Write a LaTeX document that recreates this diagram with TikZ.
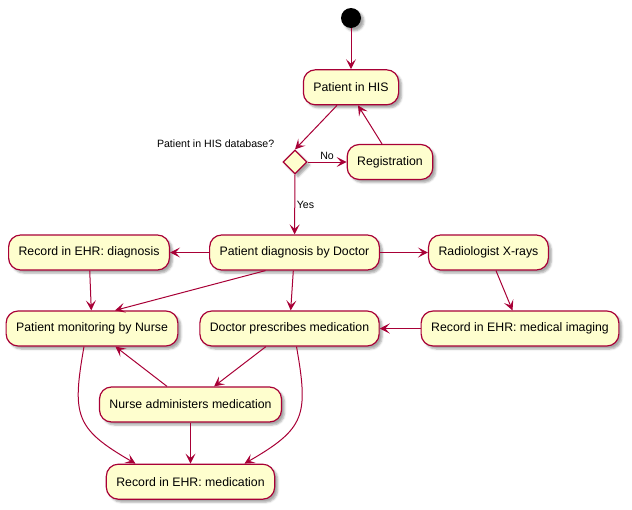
\documentclass[tikz,border=0pt]{standalone}
\usepackage{fontspec}
\setmainfont{Liberation Sans}
\usetikzlibrary{arrows.meta,positioning,shapes.geometric,shadows.blur}
\definecolor{umlRed}{HTML}{A80036}
\definecolor{umlCream}{HTML}{FEFECE}
\tikzset{
  >={Stealth[length=10pt,width=10pt,inset=4.5pt]},
  act/.style={rounded corners=12pt, draw=umlRed, fill=umlCream, line width=1.2pt,
              minimum height=35pt, inner xsep=10pt, font=\fontsize{12.3}{14}\selectfont,
              blur shadow={shadow xshift=3pt,shadow yshift=-3pt,shadow blur radius=2pt,shadow opacity=35}},
  dec/.style={diamond, draw=umlRed, fill=umlCream, line width=1.2pt, minimum size=24pt,
              inner sep=0pt, blur shadow={shadow xshift=3pt,shadow yshift=-3pt,shadow blur radius=2pt,shadow opacity=35}},
  init/.style={circle, fill=black, minimum size=20pt, inner sep=0pt,
              blur shadow={shadow xshift=3pt,shadow yshift=-3pt,shadow blur radius=2pt,shadow opacity=35}},
  lbl/.style={font=\fontsize{10.6}{13}\selectfont, inner sep=1.5pt},
  flow/.style={->, draw=umlRed, line width=1pt},
}

\begin{document}
\begin{tikzpicture}[x=1pt,y=1pt]
        \useasboundingbox (0,0) rectangle (632,-509);
        \node[init] (start) at (351,-18) {};
        \node[act,below=41pt of start] (his) {Patient in HIS};
        \node[dec] (dec) at (295,-162) {};
        \node[act,right=39pt of dec] (reg) {Registration};
        \node[lbl,anchor=east] (qlbl) at ([xshift=-19pt,yshift=18pt]dec) {Patient in HIS database?};
        \node[act] (diag) at (294.5,-252.5) {Patient diagnosis by Doctor};
        \node[act,left=39pt of diag] (recdiag) {Record in EHR: diagnosis};
        \node[act,right=48pt of diag] (xray) {Radiologist X-rays};
        \node[act] (monitor) at (92,-328.5) {Patient monitoring by Nurse};
        \node[act] (prescribe) at (289.5,-328.5) {Doctor prescribes medication};
        \node[act] (imaging) at (520,-328.5) {Record in EHR: medical imaging};
        \node[act] (nurse) at (190.5,-404.5) {Nurse administers medication};
        \node[act,below=41pt of nurse] (recmed) {Record in EHR: medication};
        \draw[flow] (start) -- (his);
        \draw[flow] ([xshift=-14pt]his.south) -- (dec.north);
        \draw[flow] (dec) -- node[lbl,above] {No} (reg);
        \draw[flow] ([xshift=-8pt]reg.north) -- ([xshift=7pt]his.south);
        \draw[flow] (dec) -- node[lbl,right] {Yes} (diag);
        \foreach \a/\b in {diag/recdiag,diag/xray,recdiag/monitor,diag/prescribe,xray/imaging,
                           imaging/prescribe,prescribe/nurse,nurse/monitor,nurse/recmed}{\draw[flow] (\a) -- (\b);}
        \draw[flow] ([xshift=-29pt]diag.south) -- ([xshift=23pt]monitor.north);
        \draw[flow] ([xshift=-8pt]monitor.south) to[out=-100,in=150,looseness=1.4] ([xshift=-55pt]recmed.north);
        \draw[flow] ([xshift=7pt]prescribe.south) to[out=-80,in=30,looseness=1.4] ([xshift=54pt]recmed.north);
      \end{tikzpicture}
\end{document}
